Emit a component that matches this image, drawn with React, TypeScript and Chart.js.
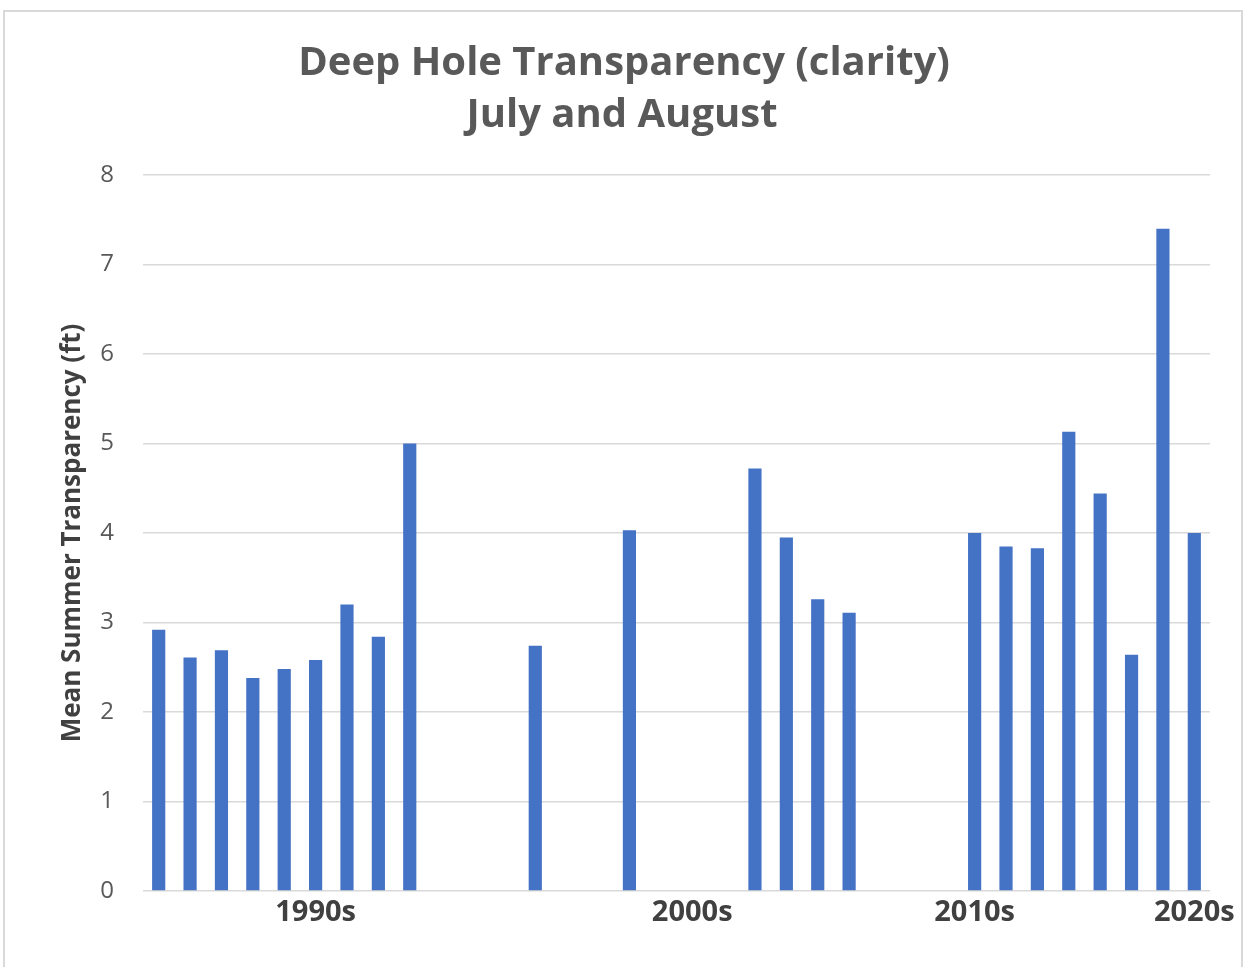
import React, { useEffect, useRef } from "react";
import { Chart, registerables } from "chart.js";

Chart.register(...registerables);

// Category tick labels (one per measurement slot; most are unlabeled)
const xTickLabels: string[] = [
  "", "", "", "", "", "1990s", "", "", "", "", "", "",
  "", "", "", "", "", "2000s", "", "", "", "", "", "",
  "", "", "2010s", "", "", "", "", "", "", "2020s",
];

// Mean summer transparency (ft); null = no measurement
const transparencyFt: (number | null)[] = [
  2.92, 2.61, 2.69, 2.38, 2.48, 2.58, 3.2, 2.84, 5.0, null, null, null,
  2.74, null, null, 4.03, null, null, null, 4.72, 3.95, 3.26, 3.11, null,
  null, null, 4.0, 3.85, 3.83, 5.13, 4.44, 2.64, 7.4, 4.0,
];

const titleLines = ["Deep Hole Transparency (clarity)", "July and August"];
const yAxisTitle = "Mean Summer Transparency (ft)";
const yTicks = [0, 1, 2, 3, 4, 5, 6, 7, 8];

const FONT = "'Open Sans', Lato, sans-serif";

const titlePlugin = {
  id: "fixedTitle",
  afterDraw(chart: any) {
    const { ctx } = chart;
    ctx.save();
    ctx.fillStyle = "#595959";
    ctx.font = `bold 40px ${FONT}`;
    ctx.textAlign = "center";
    ctx.textBaseline = "middle";
    ctx.fillText(titleLines[0], 624, 64);
    ctx.fillText(titleLines[1], 622, 116);
    ctx.restore();
  },
};

export default function App() {
  const canvasRef = useRef<HTMLCanvasElement | null>(null);

  useEffect(() => {
    if (!canvasRef.current) return;
    const chart = new Chart(canvasRef.current, {
      type: "bar",
      data: {
        labels: xTickLabels,
        datasets: [
          {
            data: transparencyFt,
            backgroundColor: "#4472C4",
            borderWidth: 0,
            barPercentage: 0.42,
            categoryPercentage: 1,
          },
        ],
      },
      options: {
        animation: false,
        responsive: false,
        maintainAspectRatio: false,
        layout: { padding: { top: 175, right: 37, bottom: 0, left: 0 } },
        plugins: {
          legend: { display: false },
          tooltip: { enabled: false },
          title: { display: false },
        },
        scales: {
          x: {
            grid: { display: false, drawTicks: false },
            border: { display: false },
            ticks: {
              autoSkip: false,
              maxRotation: 0,
              minRotation: 0,
              padding: 4,
              color: "#404040",
              font: { family: FONT, size: 29, weight: "bold" },
            },
            afterFit(scale: any) {
              scale.height = 76;
            },
          },
          y: {
            min: 0,
            max: 8,
            afterBuildTicks(scale: any) {
              scale.ticks = yTicks.map((v) => ({ value: v }));
            },
            grid: { color: "#d9d9d9", lineWidth: 1.5, drawTicks: false },
            border: { display: false },
            ticks: {
              padding: 29,
              color: "#595959",
              font: { family: FONT, size: 24 },
            },
            title: {
              display: true,
              text: yAxisTitle,
              color: "#404040",
              font: { family: FONT, size: 26, weight: "bold" },
              padding: { top: 57, bottom: 0 },
            },
            afterFit(scale: any) {
              scale.width = 143;
            },
          },
        },
      },
      plugins: [titlePlugin],
    });
    return () => chart.destroy();
  }, []);

  return (
    <div
      style={{
        position: "absolute",
        left: 0,
        top: 0,
        width: 1247,
        height: 967,
        background: "#ffffff",
        overflow: "hidden",
      }}
    >
      <div
        style={{
          position: "absolute",
          left: 3,
          top: 10,
          width: 1240,
          height: 980,
          border: "2px solid #d9d9d9",
          boxSizing: "border-box",
        }}
      />
      <canvas
        ref={canvasRef}
        width={1247}
        height={967}
        style={{ position: "absolute", left: 0, top: 0, width: 1247, height: 967 }}
      />
    </div>
  );
}
